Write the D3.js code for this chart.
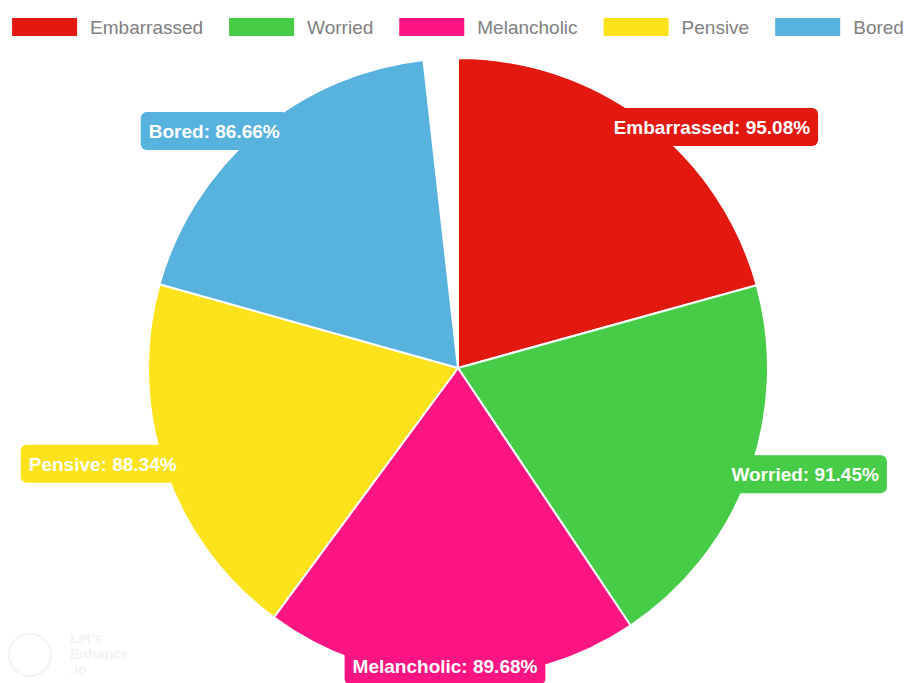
<!DOCTYPE html>
<html>
<head>
<meta charset="utf-8">
<script src="https://cdn.jsdelivr.net/npm/d3@7"></script>
<style>
  html, body { margin: 0; padding: 0; background: #fff; }
  svg { display: block; font-family: "Liberation Sans", Arial, sans-serif; }
</style>
</head>
<body>
<div id="chart"></div>
<script>
const moods = ['Embarrassed', 'Worried', 'Melancholic', 'Pensive', 'Bored']
const scores = [95.08, 91.45, 89.68, 88.34, 86.66]
const moodColors = ['#e3180f', '#46cc46', '#fc1583', '#fde31b', '#58b2de']

// label placement around the pie: [angle in degrees from top, distance from centre]
const labelPlace = [[46.5, 350], [107, 363], [182.5, 298], [254.9, 368], [314.2, 340]]

const width = 905, height = 683
const cx = 458, cy = 368, radius = 310

const data = moods.map((m, i) => ({ mood: m, score: scores[i], color: moodColors[i] }))

const svg = d3.select('#chart').append('svg')
  .attr('width', width)
  .attr('height', height)

// faint watermark bottom-left
svg.append('circle').attr('cx', 30).attr('cy', 655).attr('r', 21)
  .attr('fill', 'none').attr('stroke', '#f3f3f3').attr('stroke-width', 2)
const wm = svg.append('text').attr('fill', '#f3f3f3').attr('font-size', 14).attr('font-weight', 'bold')
wm.append('tspan').attr('x', 70).attr('y', 643).text("Let's")
wm.append('tspan').attr('x', 70).attr('y', 659).text('Enhance')
wm.append('tspan').attr('x', 70).attr('y', 675).text('.io')

const pie = d3.pie()
  .sort(null)
  .value(d => d.score)
  .startAngle(0)
  .endAngle(2 * Math.PI * 353.6 / 360)

const arc = d3.arc().innerRadius(0).outerRadius(radius)

const pieG = svg.append('g').attr('transform', `translate(${cx}, ${cy})`)

pieG.selectAll('path')
  .data(pie(data))
  .enter()
  .append('path')
  .attr('d', arc)
  .attr('fill', d => d.data.color)
  .attr('stroke', '#fff')
  .attr('stroke-width', 2)
  .attr('stroke-linejoin', 'round')

// labels
const labels = svg.append('g')
data.forEach((d, i) => {
  const a = labelPlace[i][0] * Math.PI / 180
  const x = cx + labelPlace[i][1] * Math.sin(a)
  const y = cy - labelPlace[i][1] * Math.cos(a)
  const g = labels.append('g').attr('transform', `translate(${x}, ${y})`)
  const rect = g.append('rect').attr('fill', d.color).attr('rx', 6).attr('ry', 6)
  const t = g.append('text')
    .attr('text-anchor', 'middle')
    .attr('dy', '0.36em')
    .attr('fill', '#fff')
    .attr('font-size', 19)
    .attr('font-weight', 'bold')
    .text(`${d.mood}: ${d.score.toFixed(2)}%`)
  const w = t.node().getComputedTextLength() + 16
  const h = 38
  rect.attr('x', -w / 2).attr('y', -h / 2).attr('width', w).attr('height', h)
})

// legend
const legend = svg.append('g').attr('id', 'legend')
const gap = 26
let lx = 0
data.forEach(d => {
  const g = legend.append('g')
  g.append('rect').attr('x', 0).attr('y', -9).attr('width', 65).attr('height', 18).attr('fill', d.color)
  const t = g.append('text')
    .attr('x', 78)
    .attr('dy', '0.35em')
    .attr('fill', '#808080')
    .attr('font-size', 19)
    .text(d.mood)
  const w = 78 + t.node().getComputedTextLength()
  g.attr('transform', `translate(${lx}, 27)`)
  lx += w + gap
})
const total = lx - gap
legend.attr('transform', `translate(${cx - total / 2}, 0)`)
</script>
</body>
</html>
